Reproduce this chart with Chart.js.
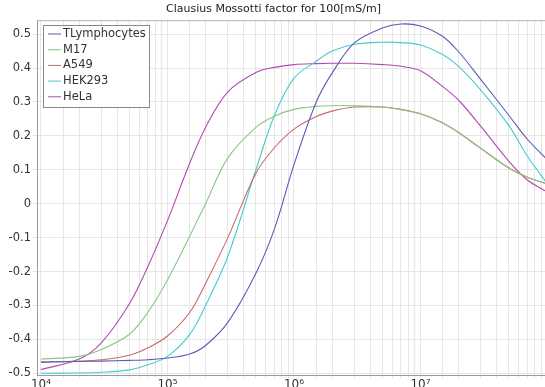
<!DOCTYPE html>
<html>
<head>
<meta charset="utf-8">
<script src="https://cdn.jsdelivr.net/npm/chart.js@4/dist/chart.umd.min.js"></script>
<style>
  html, body { margin: 0; padding: 0; background: #fff; overflow: hidden; }
  #wrap { width: 547px; height: 400px; }
</style>
</head>
<body>
<div id="wrap"><canvas id="cmChart"></canvas></div>
<script>
// frequencies in Hz (log axis)
const freqs = [1e4, 2e4, 3e4, 5e4, 7e4, 1e5, 1.5e5, 2e5, 3e5, 5e5, 7e5, 1e6, 1.5e6, 2e6, 3e6, 5e6, 7e6, 1e7, 1.5e7, 2e7, 3e7, 5e7, 7e7, 1e8];

// Clausius Mossotti factor
const tLymphocytes = [-0.467, -0.465, -0.464, -0.462, -0.46, -0.455, -0.443, -0.418, -0.35, -0.205, -0.075, 0.115, 0.30, 0.385, 0.474, 0.518, 0.53, 0.524, 0.493, 0.448, 0.366, 0.26, 0.19, 0.13];
const m17 = [-0.458, -0.45, -0.43, -0.385, -0.32, -0.225, -0.095, 0.0, 0.135, 0.225, 0.258, 0.278, 0.287, 0.289, 0.289, 0.285, 0.277, 0.265, 0.238, 0.21, 0.163, 0.105, 0.078, 0.058];
const a549 = [-0.467, -0.464, -0.46, -0.447, -0.425, -0.39, -0.32, -0.235, -0.1, 0.09, 0.165, 0.22, 0.257, 0.273, 0.285, 0.285, 0.278, 0.265, 0.238, 0.21, 0.163, 0.105, 0.078, 0.058];
const hek293 = [-0.5, -0.499, -0.497, -0.49, -0.475, -0.45, -0.385, -0.3, -0.155, 0.1, 0.26, 0.37, 0.42, 0.45, 0.47, 0.476, 0.475, 0.468, 0.44, 0.405, 0.335, 0.23, 0.14, 0.06];
const hela = [-0.489, -0.458, -0.41, -0.295, -0.185, -0.05, 0.12, 0.225, 0.33, 0.387, 0.402, 0.41, 0.413, 0.414, 0.414, 0.41, 0.405, 0.392, 0.345, 0.305, 0.228, 0.125, 0.07, 0.035];

const seriesNames = ['TLymphocytes', 'M17', 'A549', 'HEK293', 'HeLa'];
const seriesColors = ['#5b5bb8', '#86c886', '#c86a6a', '#46cccc', '#b448b4'];
const yTicks = [-0.5, -0.4, -0.3, -0.2, -0.1, 0, 0.1, 0.2, 0.3, 0.4, 0.5];
const sups = { 4: '\u2074', 5: '\u2075', 6: '\u2076', 7: '\u2077', 8: '\u2078' };

function toPoints(values) {
  return freqs.map((f, i) => ({ x: f, y: values[i] }));
}

const allValues = [tLymphocytes, m17, a549, hek293, hela];
const datasets = allValues.map((vals, i) => ({
  label: seriesNames[i],
  data: toPoints(vals),
  borderColor: seriesColors[i],
  backgroundColor: seriesColors[i],
  borderWidth: 1.1,
  pointRadius: 0,
  tension: 0.35,
  fill: false
}));

// legend box drawn inside the plot, top left
const boxLegend = {
  id: 'boxLegend',
  afterDraw(chart) {
    const ctx = chart.ctx;
    const area = chart.chartArea;
    ctx.save();
    // top frame line
    ctx.strokeStyle = '#b0b0b0';
    ctx.lineWidth = 1;
    ctx.beginPath();
    ctx.moveTo(area.left, area.top + 0.5);
    ctx.lineTo(area.right, area.top + 0.5);
    ctx.stroke();

    const x0 = 43, y0 = 25, w = 106, h = 82;
    ctx.fillStyle = '#fff';
    ctx.fillRect(x0, y0, w, h);
    ctx.strokeStyle = '#888';
    ctx.strokeRect(x0 + 0.5, y0 + 0.5, w, h);
    ctx.font = '11.5px "DejaVu Sans"';
    ctx.textBaseline = 'middle';
    seriesNames.forEach((name, i) => {
      const y = 34 + i * 15.7;
      ctx.strokeStyle = seriesColors[i];
      ctx.beginPath();
      ctx.moveTo(48, y);
      ctx.lineTo(61, y);
      ctx.stroke();
      ctx.fillStyle = '#333';
      ctx.fillText(name, 63, y);
    });
    ctx.restore();
  }
};

const ctx = document.getElementById('cmChart').getContext('2d');
const cmChart = new Chart(ctx, {
  type: 'line',
  data: { datasets: datasets },
  plugins: [boxLegend],
  options: {
    responsive: true,
    maintainAspectRatio: false,
    animation: false,
    layout: { padding: { left: 0, right: 0, top: 0, bottom: 0 } },
    plugins: {
      legend: { display: false },
      tooltip: { enabled: false },
      title: {
        display: true,
        text: 'Clausius Mossotti factor for 100[mS/m]',
        color: '#222',
        font: { family: 'DejaVu Sans', size: 11, weight: 'normal' },
        padding: { top: 3, bottom: 4 }
      }
    },
    scales: {
      x: {
        type: 'logarithmic',
        min: 9300,
        max: 1e8,
        grid: { color: '#e6e6e6', drawTicks: true, tickLength: 3 },
        border: { color: '#999' },
        ticks: {
          autoSkip: false,
          maxRotation: 0,
          padding: 0,
          color: '#333',
          font: { family: 'DejaVu Sans', size: 12 },
          callback: function (value) {
            const e = Math.log10(value);
            if (Math.abs(e - Math.round(e)) < 1e-9 && e < 8) {
              return '10' + sups[Math.round(e)];
            }
            return '';
          }
        },
        afterFit: function (scale) { scale.height = 25; }
      },
      y: {
        min: -0.505,
        max: 0.541,
        grid: { color: '#e6e6e6', tickLength: 4 },
        border: { color: '#999' },
        afterBuildTicks: function (scale) {
          scale.ticks = yTicks.map(v => ({ value: v }));
        },
        ticks: {
          color: '#333',
          padding: 2,
          font: { family: 'DejaVu Sans', size: 11.5 },
          callback: function (value) {
            return value === 0 ? '0' : value.toFixed(1);
          }
        },
        afterFit: function (scale) { scale.width = 37; }
      }
    }
  }
});
</script>
</body>
</html>
